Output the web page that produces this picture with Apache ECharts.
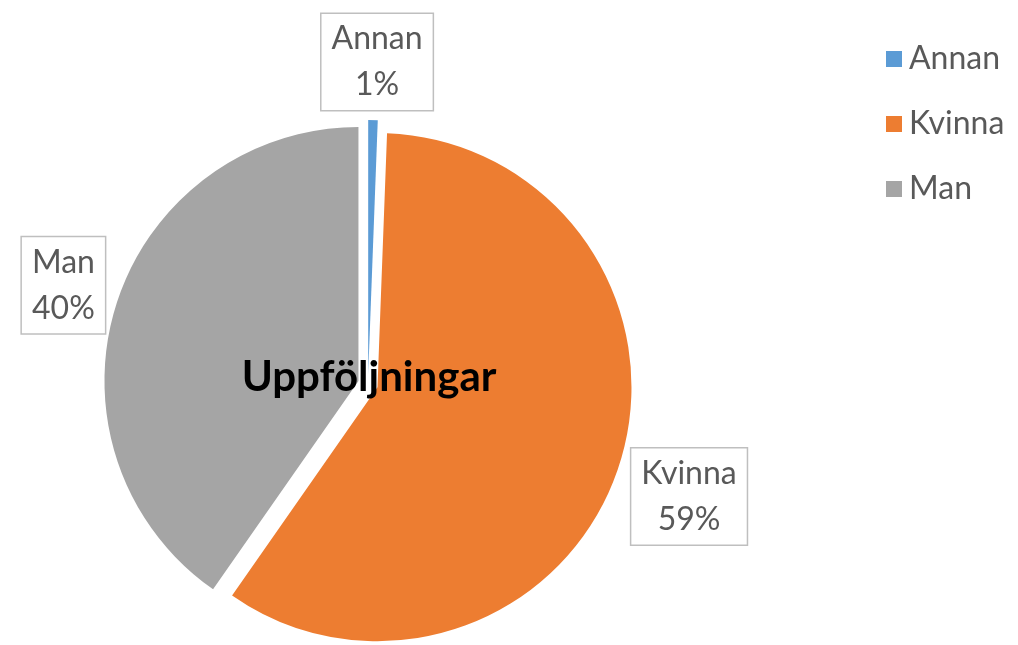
<!DOCTYPE html>
<html>
<head>
<meta charset="utf-8">
<script src="https://cdn.jsdelivr.net/npm/echarts@6/dist/echarts.min.js"></script>
<style>
html,body{margin:0;padding:0;background:#fff;}
#chart{width:1018px;height:645px;}
</style>
</head>
<body>
<div id="chart"></div>
<script>
const chartTitle = 'Uppföljningar';
const categories = ['Annan', 'Kvinna', 'Man'];
const shares = [0.6, 59.1, 40.3];
const colors = ['#5B9BD5', '#ED7D31', '#A5A5A5'];

const FONT = 'Lato, "Open Sans", sans-serif';
const labelShift = [[-6, -53], [56, 27], [-38, -18]];

const chart = echarts.init(document.getElementById('chart'));
chart.setOption({
  animation: false,
  backgroundColor: '#ffffff',
  color: colors,
  title: {
    text: chartTitle,
    left: 364,
    top: 351,
    textAlign: 'center',
    textStyle: { fontFamily: FONT, fontWeight: 'bold', fontSize: 42, color: '#000000' }
  },
  legend: {
    orient: 'vertical',
    left: 881,
    top: 35,
    itemWidth: 16,
    itemHeight: 16,
    itemGap: 27,
    icon: 'rect',
    selectedMode: false,
    data: categories,
    textStyle: { fontFamily: FONT, fontSize: 32, color: '#595959', lineHeight: 38, padding: [0, 0, 0, 2] }
  },
  series: [{
    type: 'pie',
    center: [368, 384],
    radius: 254,
    startAngle: 90,
    clockwise: true,
    selectedMode: 'multiple',
    selectedOffset: 10,
    percentPrecision: 0,
    z: 1,
    itemStyle: { borderWidth: 0 },
    label: {
      show: true,
      position: 'outside',
      formatter: '{b}\n{d}%',
      fontFamily: FONT,
      fontSize: 32,
      lineHeight: 46,
      color: '#595959',
      backgroundColor: '#ffffff',
      borderColor: '#BFBFBF',
      borderWidth: 1.5,
      padding: [2, 10, 2, 10],
      align: 'center'
    },
    labelLine: { show: false, length: 5, length2: 5 },
    labelLayout: function (p) {
      const s = labelShift[p.dataIndex];
      return { dx: s[0], dy: s[1], align: 'center', verticalAlign: 'middle' };
    },
    emphasis: { disabled: true },
    select: { itemStyle: { opacity: 1 } },
    data: categories.map((c, i) => ({ name: c, value: shares[i], selected: true }))
  }]
});
</script>
</body>
</html>
